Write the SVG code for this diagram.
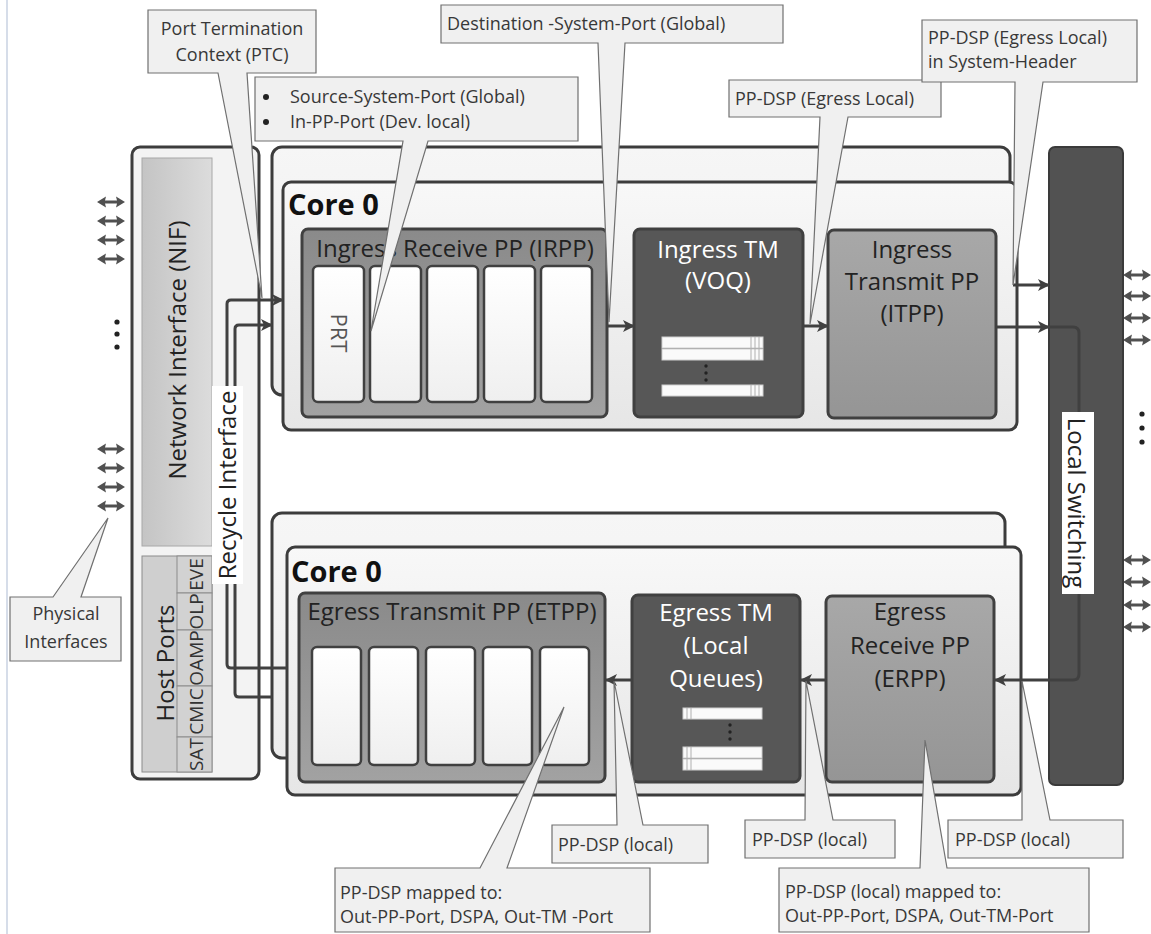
<svg xmlns="http://www.w3.org/2000/svg" width="1151" height="934" viewBox="0 0 1151 934">
<defs>
<style>
text{font-family:"Open Sans","Noto Sans","DejaVu Sans",sans-serif;}
.box{stroke:#3c3c3c;stroke-width:3;}
.call{fill:#f0f0f0;stroke:#707070;stroke-width:1.2;}
.ct{font-size:18px;fill:#383838;}
.lbl{font-size:24px;fill:#222;}
.wl{font-size:24px;fill:#fff;}
.conn{fill:none;stroke:#404040;stroke-width:3;}
.blk{fill:url(#gBlk);stroke:#404040;stroke-width:2.5;}
.q{fill:#fafafa;stroke:#d0d0d0;stroke-width:1;}
.ql{stroke:#b0b0b0;stroke-width:1;}
.dot{fill:#222;}
.pa{fill:#505050;}
.hc{fill:#d2d2d2;stroke:#8c8c8c;stroke-width:1;}
.hct{font-size:19px;fill:#333;}
</style>
<linearGradient id="gCore" x1="0" y1="0" x2="0" y2="1"><stop offset="0" stop-color="#f8f8f8"/><stop offset="1" stop-color="#e6e6e6"/></linearGradient>
<linearGradient id="gBack" x1="0" y1="0" x2="0" y2="1"><stop offset="0" stop-color="#f6f6f6"/><stop offset="1" stop-color="#ececec"/></linearGradient>
<linearGradient id="gRPP" x1="0" y1="0" x2="0" y2="1"><stop offset="0" stop-color="#8a8a8a"/><stop offset="1" stop-color="#a2a2a2"/></linearGradient>
<linearGradient id="gTPP" x1="0" y1="0" x2="0" y2="1"><stop offset="0" stop-color="#a8a8a8"/><stop offset="1" stop-color="#959595"/></linearGradient>
<linearGradient id="gNIF" x1="0" y1="0" x2="1" y2="0"><stop offset="0" stop-color="#c4c4c4"/><stop offset="1" stop-color="#dcdcdc"/></linearGradient>
<linearGradient id="gBlk" x1="0" y1="0" x2="0" y2="1"><stop offset="0" stop-color="#ffffff"/><stop offset="1" stop-color="#efefef"/></linearGradient>
<marker id="ah" viewBox="0 0 12 12" refX="11" refY="6" markerWidth="13" markerHeight="12" markerUnits="userSpaceOnUse" orient="auto"><path d="M0,0 L12,6 L0,12 L3,6 z" fill="#404040"/></marker>
<path id="dbl" d="M0,0 L9,-5.5 L8,-1.6 L20,-1.6 L19,-5.5 L28,0 L19,5.5 L20,1.6 L8,1.6 L9,5.5 Z"/>
</defs>

<rect width="1151" height="934" fill="#ffffff"/>
<line x1="7" y1="0" x2="7" y2="934" stroke="#d6dde9" stroke-width="2"/>

<!-- physical interface arrows -->
<g id="phys-left" class="pa">
<use href="#dbl" x="97" y="202"/><use href="#dbl" x="97" y="221"/><use href="#dbl" x="97" y="240"/><use href="#dbl" x="97" y="259"/>
<circle class="dot" cx="117" cy="322" r="2.6"/><circle class="dot" cx="117" cy="334" r="2.6"/><circle class="dot" cx="117" cy="347" r="2.6"/>
<use href="#dbl" x="97" y="449"/><use href="#dbl" x="97" y="468"/><use href="#dbl" x="97" y="487"/><use href="#dbl" x="97" y="506"/>
</g>
<g id="phys-right" class="pa">
<use href="#dbl" x="1123" y="275"/><use href="#dbl" x="1123" y="296"/><use href="#dbl" x="1123" y="318"/><use href="#dbl" x="1123" y="340"/>
<circle class="dot" cx="1142" cy="414" r="2.6"/><circle class="dot" cx="1142" cy="428" r="2.6"/><circle class="dot" cx="1142" cy="442" r="2.6"/>
<use href="#dbl" x="1123" y="560"/><use href="#dbl" x="1123" y="582"/><use href="#dbl" x="1123" y="605"/><use href="#dbl" x="1123" y="627"/>
</g>

<!-- NIF / host ports block -->
<g id="nif-block">
<rect x="132" y="147" width="127" height="632" rx="8" fill="#f3f3f3" class="box"/>
<rect x="142" y="158" width="70" height="388" fill="url(#gNIF)" stroke="#a8a8a8" stroke-width="1"/>
<text class="lbl" transform="translate(186,350) rotate(-90)" text-anchor="middle" fill="#333">Network Interface (NIF)</text>
</g>
<g id="host-ports">
<rect x="142" y="556" width="70" height="216" fill="#cfcfcf" stroke="#8c8c8c" stroke-width="1"/>
<rect class="hc" x="177" y="556" width="35" height="37"/>
<rect class="hc" x="177" y="593" width="35" height="37"/>
<rect class="hc" x="177" y="630" width="35" height="56"/>
<rect class="hc" x="177" y="686" width="35" height="51"/>
<rect class="hc" x="177" y="737" width="35" height="35"/>
<text class="lbl" transform="translate(174,663) rotate(-90)" text-anchor="middle" fill="#333">Host Ports</text>
<text class="hct" transform="translate(203,574.5) rotate(-90)" text-anchor="middle">EVE</text>
<text class="hct" transform="translate(203,611.5) rotate(-90)" text-anchor="middle">OLP</text>
<text class="hct" transform="translate(203,658) rotate(-90)" text-anchor="middle">OAMP</text>
<text class="hct" transform="translate(203,711.5) rotate(-90)" text-anchor="middle">CMIC</text>
<text class="hct" transform="translate(203,754.5) rotate(-90)" text-anchor="middle">SAT</text>
</g>

<!-- Ingress cores -->
<g id="ingress-core1">
<rect x="272" y="147" width="738" height="248" rx="10" fill="url(#gBack)" class="box"/>
</g>
<g id="ingress-core0">
<rect x="283" y="182" width="734" height="248" rx="8" fill="url(#gCore)" class="box"/>
<text x="288" y="215" font-size="29" font-weight="bold" fill="#111">Core 0</text>
</g>
<g id="irpp">
<rect x="302" y="229" width="305" height="188" rx="6" fill="url(#gRPP)" stroke="#404040" stroke-width="3"/>
<text class="lbl" x="455" y="257" text-anchor="middle">Ingress Receive PP (IRPP)</text>
<rect class="blk" x="313" y="266" width="51" height="136" rx="5"/>
<rect class="blk" x="370" y="266" width="51" height="136" rx="5"/>
<rect class="blk" x="427" y="266" width="51" height="136" rx="5"/>
<rect class="blk" x="484" y="266" width="51" height="136" rx="5"/>
<rect class="blk" x="541" y="266" width="51" height="136" rx="5"/>
<text transform="translate(331,333) rotate(90)" text-anchor="middle" font-size="22" fill="#555">PRT</text>
</g>
<g id="ingress-tm">
<rect x="634" y="229" width="169" height="188" rx="6" fill="#575757" stroke="#404040" stroke-width="3"/>
<text class="wl" x="718" y="258" text-anchor="middle">Ingress TM</text>
<text class="wl" x="718" y="289" text-anchor="middle">(VOQ)</text>
<rect class="q" x="662" y="337" width="101" height="11"/>
<rect class="q" x="662" y="349" width="101" height="11"/>
<rect class="q" x="662" y="385" width="101" height="11"/>
<path class="ql" d="M751,337V360M755,337V360M759,337V360M751,385V396M755,385V396M759,385V396"/>
<circle class="dot" cx="706" cy="366" r="1.7"/><circle class="dot" cx="706" cy="373" r="1.7"/><circle class="dot" cx="706" cy="380" r="1.7"/>
</g>
<g id="itpp">
<rect x="828" y="230" width="168" height="188" rx="6" fill="url(#gTPP)" stroke="#404040" stroke-width="3"/>
<text class="lbl" x="912" y="258" text-anchor="middle">Ingress</text>
<text class="lbl" x="912" y="290" text-anchor="middle">Transmit PP</text>
<text class="lbl" x="912" y="322" text-anchor="middle">(ITPP)</text>
</g>

<!-- Egress cores -->
<g id="egress-core1">
<rect x="272" y="513" width="733" height="245" rx="10" fill="url(#gBack)" class="box"/>
</g>
<g id="egress-core0">
<rect x="287" y="547" width="734" height="248" rx="8" fill="url(#gCore)" class="box"/>
<text x="291" y="582" font-size="29" font-weight="bold" fill="#111">Core 0</text>
</g>
<g id="etpp">
<rect x="299" y="593" width="306" height="189" rx="6" fill="url(#gRPP)" stroke="#404040" stroke-width="3"/>
<text class="lbl" x="452" y="620" text-anchor="middle">Egress Transmit PP (ETPP)</text>
<rect class="blk" x="312" y="647" width="49" height="118" rx="5"/>
<rect class="blk" x="369" y="647" width="49" height="118" rx="5"/>
<rect class="blk" x="426" y="647" width="49" height="118" rx="5"/>
<rect class="blk" x="483" y="647" width="49" height="118" rx="5"/>
<rect class="blk" x="540" y="647" width="49" height="118" rx="5"/>
</g>
<g id="egress-tm">
<rect x="632" y="595" width="168" height="187" rx="6" fill="#575757" stroke="#404040" stroke-width="3"/>
<text class="wl" x="716" y="621" text-anchor="middle">Egress TM</text>
<text class="wl" x="716" y="654" text-anchor="middle">(Local</text>
<text class="wl" x="716" y="687" text-anchor="middle">Queues)</text>
<rect class="q" x="683" y="708" width="79" height="11"/>
<rect class="q" x="683" y="747" width="79" height="11"/>
<rect class="q" x="683" y="759" width="79" height="11"/>
<path class="ql" d="M687,708V719M691,708V719M687,747V770M691,747V770"/>
<circle class="dot" cx="730" cy="725" r="1.7"/><circle class="dot" cx="730" cy="732" r="1.7"/><circle class="dot" cx="730" cy="739" r="1.7"/>
</g>
<g id="erpp">
<rect x="826" y="596" width="168" height="186" rx="6" fill="url(#gTPP)" stroke="#404040" stroke-width="3"/>
<text class="lbl" x="910" y="620" text-anchor="middle">Egress</text>
<text class="lbl" x="910" y="654" text-anchor="middle">Receive PP</text>
<text class="lbl" x="910" y="687" text-anchor="middle">(ERPP)</text>
</g>

<!-- Local switching -->
<g id="local-switching">
<rect x="1049" y="147" width="74" height="638" rx="6" fill="#525252" stroke="#3a3a3a" stroke-width="2"/>
</g>

<!-- connectors -->
<g id="connectors">
<path class="conn" d="M287,668 H231 Q227,668 227,664 V304 Q227,300 231,300 H283" marker-end="url(#ah)"/>
<path class="conn" d="M272,697 H239 Q235,697 235,693 V329 Q235,325 239,325 H272" marker-end="url(#ah)"/>
<path class="conn" d="M607,326 H634" marker-end="url(#ah)"/>
<path class="conn" d="M803,326 H828" marker-end="url(#ah)"/>
<path class="conn" d="M1013,285 H1049" marker-end="url(#ah)"/>
<path class="conn" d="M996,327 H1049" marker-end="url(#ah)"/>
<path class="conn" d="M1049,327 H1073 Q1079,327 1079,333 V674 Q1079,680 1073,680 H995" stroke="#383838" marker-end="url(#ah)"/>
<path class="conn" d="M826,680 H801" marker-end="url(#ah)"/>
<path class="conn" d="M632,680 H606" marker-end="url(#ah)"/>
</g>

<g id="recycle-label">
<rect x="212" y="386" width="31" height="198" fill="#ffffff"/>
<text class="lbl" transform="translate(236,485) rotate(-90)" text-anchor="middle">Recycle Interface</text>
</g>
<g id="local-switching-label">
<rect x="1062" y="412" width="32" height="182" fill="#ffffff"/>
<text class="lbl" transform="translate(1068,503) rotate(90)" text-anchor="middle">Local Switching</text>
</g>

<!-- callouts -->
<g id="callout-ptc">
<path class="call" d="M148,10 H316 V73 H247 L262,298 L218,73 H148 Z"/>
<text class="ct" x="232" y="35" text-anchor="middle">Port Termination</text>
<text class="ct" x="232" y="61" text-anchor="middle">Context (PTC)</text>
</g>
<g id="callout-ssp">
<path class="call" d="M255,77 H578 V141 H428 L371,331 L403,141 H255 Z"/>
<circle cx="266" cy="97" r="3" fill="#222"/><circle cx="266" cy="122" r="3" fill="#222"/>
<text class="ct" x="290" y="103">Source-System-Port (Global)</text>
<text class="ct" x="290" y="128">In-PP-Port (Dev. local)</text>
</g>
<g id="callout-dsp">
<path class="call" d="M441,5 H783 V43 H625 L609,322 L598,43 H441 Z"/>
<text class="ct" x="447" y="30">Destination -System-Port (Global)</text>
</g>
<g id="callout-ppdsp-egress">
<path class="call" d="M729,80 H941 V117 H848 L810,324 L820,117 H729 Z"/>
<text class="ct" x="735" y="105">PP-DSP (Egress Local)</text>
</g>
<g id="callout-sysheader">
<path class="call" d="M922,20 H1137 V82 H1043 L1013,285 L1015,82 H922 Z"/>
<text class="ct" x="928" y="44">PP-DSP (Egress Local)</text>
<text class="ct" x="928" y="68">in System-Header</text>
</g>
<g id="callout-physical">
<path class="call" d="M10,597 H53 L108,518 L81,597 H121 V661 H10 Z"/>
<text class="ct" x="66" y="620" text-anchor="middle">Physical</text>
<text class="ct" x="66" y="648" text-anchor="middle">Interfaces</text>
</g>
<g id="callout-local1">
<path class="call" d="M552,825 H617 L614,681 L643,825 H708 V863 H552 Z"/>
<text class="ct" x="558" y="851">PP-DSP (local)</text>
</g>
<g id="callout-local2">
<path class="call" d="M745,820 H805 L806,681 L833,820 H895 V858 H745 Z"/>
<text class="ct" x="752" y="846">PP-DSP (local)</text>
</g>
<g id="callout-local3">
<path class="call" d="M948,820 H1022 L1022,681 L1050,820 H1123 V858 H948 Z"/>
<text class="ct" x="955" y="846">PP-DSP (local)</text>
</g>
<g id="callout-map-etpp">
<path class="call" d="M335,868 H480 L564,707 L507,868 H650 V932 H335 Z"/>
<text class="ct" x="340" y="899">PP-DSP mapped to:</text>
<text class="ct" x="340" y="923">Out-PP-Port, DSPA, Out-TM -Port</text>
</g>
<g id="callout-map-erpp">
<path class="call" d="M779,868 H920 L925,740 L947,868 H1089 V932 H779 Z"/>
<text class="ct" x="785" y="898">PP-DSP (local) mapped to:</text>
<text class="ct" x="785" y="922">Out-PP-Port, DSPA, Out-TM-Port</text>
</g>
</svg>
